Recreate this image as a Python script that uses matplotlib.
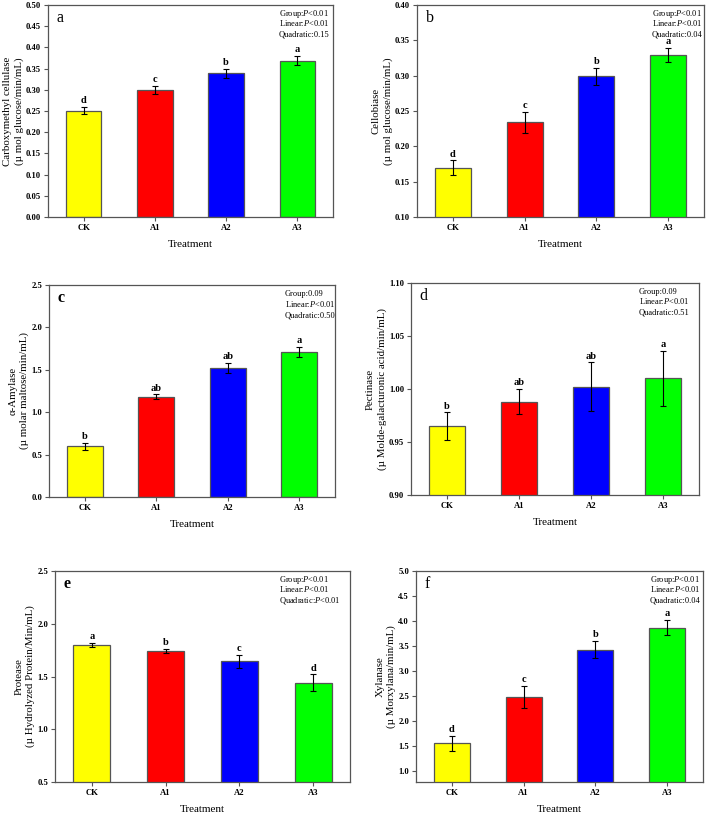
import matplotlib
matplotlib.use('Agg')
import matplotlib.pyplot as plt
import numpy as np

plt.rcParams['font.family'] = ['Liberation Serif', 'DejaVu Serif']
plt.rcParams['mathtext.fontset'] = 'custom'
plt.rcParams['mathtext.rm'] = 'Liberation Serif'
plt.rcParams['mathtext.it'] = 'Liberation Serif:italic'

# data
treatments = ['CK', 'A1', 'A2', 'A3']
bar_colors = ['#ffff00', '#ff0000', '#0000ff', '#00ff00']

cmc_mean = [0.251, 0.300, 0.339, 0.369]
cmc_err = [0.008, 0.010, 0.011, 0.011]
cmc_letters = ['d', 'c', 'b', 'a']

cellobiase_mean = [0.170, 0.234, 0.299, 0.329]
cellobiase_err = [0.010, 0.015, 0.012, 0.010]
cellobiase_letters = ['d', 'c', 'b', 'a']

amylase_mean = [0.60, 1.18, 1.52, 1.71]
amylase_err = [0.04, 0.03, 0.06, 0.06]
amylase_letters = ['b', 'ab', 'ab', 'a']

pectinase_mean = [0.965, 0.988, 1.002, 1.010]
pectinase_err = [0.013, 0.012, 0.023, 0.026]
pectinase_letters = ['b', 'ab', 'ab', 'a']

protease_mean = [1.80, 1.74, 1.645, 1.44]
protease_err = [0.02, 0.02, 0.06, 0.08]
protease_letters = ['a', 'b', 'c', 'd']

xylanase_mean = [1.56, 2.49, 3.43, 3.87]
xylanase_err = [0.15, 0.22, 0.17, 0.15]
xylanase_letters = ['d', 'c', 'b', 'a']

P = '$\\it{P}$'
panels = [
    dict(tag='a', mean=cmc_mean, err=cmc_err, letters=cmc_letters,
         ylim=(0, 0.5), ticks=np.arange(0, 0.501, 0.05), fmt='%.2f',
         ylabel='Carboxymethyl cellulase\n(\u00b5 mol glucose/min/mL)',
         stats=['Group:' + P + '<0.01', 'Linear:' + P + '<0.01', 'Quadratic:0.15'],
         box=(48, 5, 333, 217), sx=279, bold=False),
    dict(tag='b', mean=cellobiase_mean, err=cellobiase_err, letters=cellobiase_letters,
         ylim=(0.1, 0.4), ticks=np.arange(0.1, 0.401, 0.05), fmt='%.2f',
         ylabel='Cellobiase\n(\u00b5 mol glucose/min/mL)',
         stats=['Group:' + P + '<0.01', 'Linear:' + P + '<0.01', 'Quadratic:0.04'],
         box=(417, 5, 704, 217), sx=652, bold=False),
    dict(tag='c', mean=amylase_mean, err=amylase_err, letters=amylase_letters,
         ylim=(0, 2.5), ticks=np.arange(0, 2.51, 0.5), fmt='%.1f',
         ylabel='\u03b1-Amylase\n(\u00b5 molar maltose/min/mL)',
         stats=['Group:0.09', 'Linear:' + P + '<0.01', 'Quadratic:0.50'],
         box=(49, 285, 335, 497), sx=285, bold=True),
    dict(tag='d', mean=pectinase_mean, err=pectinase_err, letters=pectinase_letters,
         ylim=(0.9, 1.1), ticks=np.arange(0.9, 1.101, 0.05), fmt='%.2f',
         ylabel='Pectinase\n(\u00b5 Molde-galacturonic acid/min/mL)',
         stats=['Group:0.09', 'Linear:' + P + '<0.01', 'Quadratic:0.51'],
         box=(411, 283, 699, 495), sx=639, bold=False),
    dict(tag='e', mean=protease_mean, err=protease_err, letters=protease_letters,
         ylim=(0.5, 2.5), ticks=np.arange(0.5, 2.51, 0.5), fmt='%.1f',
         ylabel='Protease\n(\u00b5 Hydrolyzed Protein/Min/mL)',
         stats=['Group:' + P + '<0.01', 'Linear:' + P + '<0.01', 'Quadratic:' + P + '<0.01'],
         box=(55, 571, 350, 782), sx=279, bold=True),
    dict(tag='f', mean=xylanase_mean, err=xylanase_err, letters=xylanase_letters,
         ylim=(0.79, 5.0), ticks=np.arange(1.0, 5.01, 0.5), fmt='%.1f',
         ylabel='Xylanase\n(\u00b5 Morxylana/min/mL)',
         stats=['Group:' + P + '<0.01', 'Linear:' + P + '<0.01', 'Quadratic:0.04'],
         box=(416, 571, 703, 782), sx=650, bold=False),
]

W, H = 708, 813
fig = plt.figure(figsize=(W / 100, H / 100), dpi=100)
edge = '#555555'

for p in panels:
    x0, y0, x1, y1 = p['box']
    ax = fig.add_axes([x0 / W, 1 - y1 / H, (x1 - x0) / W, (y1 - y0) / H])
    x = np.arange(len(treatments))
    ax.bar(x, p['mean'], width=0.5, color=bar_colors, edgecolor=edge, linewidth=0.9, zorder=2)
    ax.errorbar(x, p['mean'], yerr=p['err'], fmt='none', ecolor='black',
                elinewidth=0.8, capsize=2, capthick=0.8, zorder=3)
    span = p['ylim'][1] - p['ylim'][0]
    for xi, m, e, lt in zip(x, p['mean'], p['err'], p['letters']):
        ax.text(xi, m + e + span * 0.008, lt, ha='center', va='bottom',
                fontsize=7.5, fontweight='bold')
    ax.set_xlim(-0.5, 3.5)
    ax.set_ylim(*p['ylim'])
    ax.set_yticks(p['ticks'])
    ax.set_yticklabels([p['fmt'] % t for t in p['ticks']])
    ax.set_xticks(x)
    ax.set_xticklabels(treatments)
    for lbl in ax.get_xticklabels() + ax.get_yticklabels():
        lbl.set_fontweight('bold')
        lbl.set_fontsize(6.2)
    ax.tick_params(direction='out', length=3, width=0.8, color=edge, pad=2)
    for s in ax.spines.values():
        s.set_color(edge)
        s.set_linewidth(0.9)
    ax.set_xlabel('Treatment', fontsize=8, labelpad=6)
    ax.set_ylabel(p['ylabel'], fontsize=7.8, labelpad=1.5, linespacing=1.3)
    ax.text(0.03, 0.975, p['tag'], transform=ax.transAxes, ha='left', va='top',
            fontsize=11.5, fontweight='bold' if p['bold'] else 'normal')
    # stats lines, placed one by one so line heights stay even
    sxf = (p['sx'] - x0) / (x1 - x0)
    hpx = y1 - y0
    for i, line in enumerate(p['stats']):
        ax.text(sxf, 1 - (11 + 10.5 * i) / hpx, line, transform=ax.transAxes,
                ha='left', va='baseline', fontsize=6.0)

fig.savefig('out.png', dpi=100)
